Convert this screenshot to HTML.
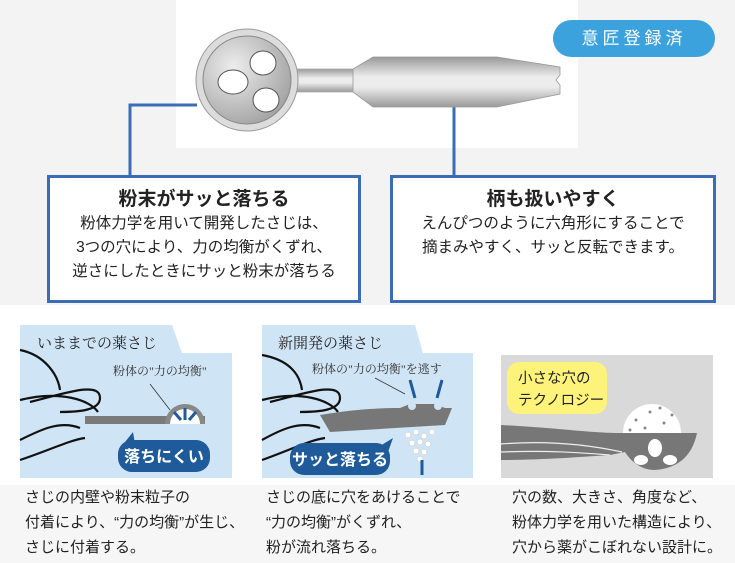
<!DOCTYPE html>
<html><head><meta charset="utf-8"><style>
html,body{margin:0;padding:0}
body{width:735px;height:563px;position:relative;overflow:hidden;background:#f3f3f3;font-family:"Liberation Sans","Noto Sans CJK JP",sans-serif;color:#222}
.abs{position:absolute}
.box{position:absolute;background:#fff;border:3px solid #3a6db6;box-sizing:border-box;text-align:center}
.box h3{margin:0;font-size:19px;font-weight:bold;line-height:24px}
.box p{margin:0;font-size:15.5px;line-height:24px}
.cap{position:absolute;font-size:15px;line-height:25px;color:#222}
</style></head><body>
<div class="abs" style="left:176px;top:0;width:402px;height:148px;background:#fff"></div>
<div class="abs" style="left:0;top:305px;width:735px;height:180px;background:#fff"></div>
<div class="abs" style="left:0;top:485px;width:735px;height:78px;background:#f6f6f6"></div>
<div class="abs" style="left:553px;top:20px;width:162px;height:37px;border-radius:19px;background:#3ca2dd;color:#fff;font-size:17px;line-height:37px;text-align:center;letter-spacing:4px">意匠登録済</div>

<svg class="abs" style="left:0;top:0" width="735" height="310">
<defs>
<linearGradient id="g1" x1="0" y1="0" x2="0" y2="1"><stop offset="0" stop-color="#9a9a9a"/><stop offset="0.4" stop-color="#ececec"/><stop offset="0.6" stop-color="#ececec"/><stop offset="1" stop-color="#9a9a9a"/></linearGradient>
<radialGradient id="g2" cx="0.35" cy="0.35" r="0.8"><stop offset="0" stop-color="#ededed"/><stop offset="1" stop-color="#9a9a9a"/></radialGradient>
</defs>
<polyline points="130,175 130,105 197,105" fill="none" stroke="#3a6db6" stroke-width="3"/>
<line x1="454" y1="96" x2="454" y2="176" stroke="#3a6db6" stroke-width="3"/>
<rect x="296" y="69" width="60" height="23" fill="url(#g1)" stroke="#aaa" stroke-width="0.8"/>
<polygon points="353,69 373,57 497,57 560,67 560,75 556,80 560,85 560,94 497,107 373,107 353,92" fill="url(#g1)" stroke="#999" stroke-width="0.8"/>
<circle cx="247" cy="80" r="51" fill="#dcdcdc" stroke="#999" stroke-width="1"/>
<circle cx="247" cy="80" r="44" fill="url(#g2)" stroke="#888" stroke-width="1"/>
<ellipse cx="233" cy="82" rx="15" ry="12" fill="#fff" stroke="#555"/>
<ellipse cx="263" cy="63" rx="13" ry="12" fill="#fff" stroke="#555"/>
<ellipse cx="266" cy="100" rx="13" ry="12" fill="#fff" stroke="#555"/>
</svg>

<div class="box" style="left:47px;top:175px;width:314px;height:128px;padding-top:10px">
<h3>粉末がサッと落ちる</h3>
<p>粉体力学を用いて開発したさじは、<br>3つの穴により、力の均衡がくずれ、<br>逆さにしたときにサッと粉末が落ちる</p></div>
<div class="box" style="left:390px;top:175px;width:326px;height:128px;padding-top:10px">
<h3>柄も扱いやすく</h3>
<p>えんぴつのように六角形にすることで<br>摘まみやすく、サッと反転できます。</p></div>

<svg class="abs" style="left:0;top:320px" width="735" height="165">
<!-- panel 1 -->
<polygon points="20,5 172,5 182,33 232,33 232,158 20,158" fill="#cfe4f5"/>
<path d="M20,30 C45,35 58,55 60,70 M20,80 C60,70 90,80 98,92 M30,82 C60,75 100,60 100,78 C100,90 80,92 60,92 M20,120 C40,110 60,100 80,108 M20,140 C50,130 70,120 85,118" fill="none" stroke="#111" stroke-width="2.2"/>
<rect x="85" y="96" width="120" height="8" fill="#7a7a7a"/>
<path d="M165,104 A20,20 0 0 1 205,104 Z" fill="#888"/>
<path d="M170,104 A15,15 0 0 1 200,104 Z" fill="#fff"/>
<path d="M185,88 V100 M174,92 L181,100 M196,92 L189,100" stroke="#1f5b9a" stroke-width="3"/>
<line x1="150" y1="64" x2="170" y2="90" stroke="#333" stroke-width="0.8"/>
<rect x="118" y="120" width="92" height="32" rx="14" fill="#1f5b9a"/>
<polygon points="125,122 133,112 135,124" fill="#1f5b9a"/>
<text x="37" y="28" font-size="15" fill="#222" font-family="Liberation Serif,Noto Serif CJK SC,serif">いままでの薬さじ</text>
<text x="113" y="55" font-size="12" fill="#333" font-family="Liberation Serif,Noto Serif CJK SC,serif">粉体の"力の均衡"</text>
<text x="164" y="142" font-size="16" fill="#fff" font-weight="bold" text-anchor="middle">落ちにくい</text>
<!-- panel 2 -->
<polygon points="262,5 415,5 423,33 473,33 473,158 262,158" fill="#cfe4f5"/>
<path d="M262,35 C290,40 300,55 302,70 M262,80 C300,70 330,80 338,92 M270,82 C300,75 340,60 340,78 C340,90 320,92 300,92 M262,120 C280,110 300,100 320,108 M262,140 C290,130 310,120 325,118" fill="none" stroke="#111" stroke-width="2.2"/>
<path d="M320,95 C360,88 390,88 400,88 L410,84 L435,84 L445,88 L452,88 L445,105 L330,112 Z" fill="#777"/>
<circle cx="412" cy="86" r="4" fill="#cfe4f5"/><circle cx="438" cy="86" r="4" fill="#cfe4f5"/>
<g fill="#fff" stroke="#bbb" stroke-width="0.5"><circle cx="408" cy="115" r="3"/><circle cx="416" cy="112" r="3"/><circle cx="424" cy="116" r="3"/><circle cx="432" cy="112" r="3"/><circle cx="412" cy="123" r="3"/><circle cx="420" cy="122" r="3"/><circle cx="428" cy="124" r="3"/><circle cx="416" cy="131" r="3"/><circle cx="424" cy="132" r="3"/><circle cx="420" cy="139" r="3"/></g>
<path d="M410,60 L415,78 M442,60 L437,78 M422,140 V155" stroke="#1f5b9a" stroke-width="3"/>
<line x1="375" y1="58" x2="405" y2="74" stroke="#333" stroke-width="0.8"/>
<rect x="290" y="123" width="100" height="32" rx="14" fill="#1f5b9a"/>
<polygon points="380,126 393,118 388,132" fill="#1f5b9a"/>
<text x="278" y="28" font-size="15" fill="#222" font-family="Liberation Serif,Noto Serif CJK SC,serif">新開発の薬さじ</text>
<text x="312" y="53" font-size="12" fill="#333" font-family="Liberation Serif,Noto Serif CJK SC,serif">粉体の"力の均衡"を逃す</text>
<text x="340" y="145" font-size="16" fill="#fff" font-weight="bold" text-anchor="middle">サッと落ちる</text>
<!-- panel 3 -->
<rect x="501" y="35" width="212" height="123" fill="#d9d9d9"/>
<rect x="507" y="42" width="100" height="52" rx="12" fill="#fdf37a"/>
<text x="518" y="63" font-size="14.5" fill="#222">小さな穴の</text>
<text x="518" y="85" font-size="14.5" fill="#222">テクノロジー</text>
<path d="M623,113 A29,29 0 0 1 681,113 Z" fill="#fff"/>
<g fill="#888"><circle cx="636" cy="100" r="1.5"/><circle cx="650" cy="92" r="1.5"/><circle cx="664" cy="103" r="1.5"/><circle cx="645" cy="108" r="1.5"/><circle cx="660" cy="88" r="1.5"/><circle cx="672" cy="95" r="1.5"/><circle cx="630" cy="110" r="1.5"/></g>
<path d="M501,105 C560,108 590,113 620,113 L697,113 C693,132 682,148 655,150 C640,150 630,140 625,132 L610,135 C580,137 540,140 501,140 Z" fill="#777"/>
<path d="M501,124 C550,120 590,125 622,132 M501,132 C550,130 585,133 610,135" fill="none" stroke="#eee" stroke-width="1.2"/>
<ellipse cx="655" cy="128" rx="7" ry="9" fill="#fff"/><ellipse cx="641" cy="140" rx="7" ry="5" fill="#fff"/><ellipse cx="670" cy="140" rx="7" ry="5" fill="#fff"/>
</svg>

<div class="cap" style="left:25px;top:485px">さじの内壁や粉末粒子の<br>付着により、“力の均衡”が生じ、<br>さじに付着する。</div>
<div class="cap" style="left:266px;top:485px">さじの底に穴をあけることで<br>“力の均衡”がくずれ、<br>粉が流れ落ちる。</div>
<div class="cap" style="left:512px;top:485px">穴の数、大きさ、角度など、<br>粉体力学を用いた構造により、<br>穴から薬がこぼれない設計に。</div>
</body></html>
